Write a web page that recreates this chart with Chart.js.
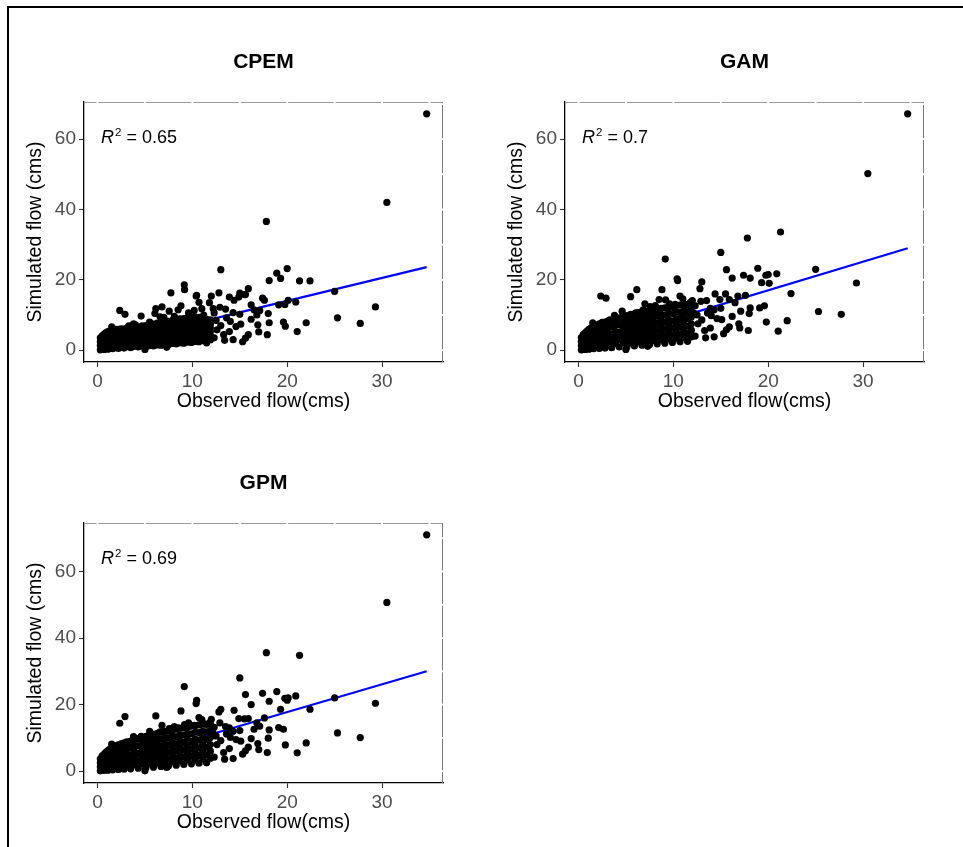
<!DOCTYPE html>
<html>
<head>
<meta charset="utf-8">
<script src="https://cdn.jsdelivr.net/npm/chart.js@4.4.1/dist/chart.umd.min.js"></script>
<style>
  body { margin: 0; background: #fff; width: 963px; height: 847px; overflow: hidden; position: relative; }
  .frame { position: absolute; left: 7px; top: 6px; width: 1000px; height: 900px; border-top: 2px solid #000; border-left: 2px solid #000; }
  canvas { position: absolute; }
</style>
</head>
<body>
<div class="frame"></div>
<canvas id="cpem" width="450" height="390" style="left:10px;top:30px"></canvas>
<canvas id="gam" width="450" height="390" style="left:491px;top:30px"></canvas>
<canvas id="gpm" width="450" height="390" style="left:10px;top:451px"></canvas>
<script>
// observed flow (shared by all three panels) - dense cluster first, then the scattered points
const observed = [
  0.3,0.3,0.3,0.3, 0.5,0.5,0.5,0.5, 0.7,0.7,0.7,0.7, 0.9,0.9,0.9,0.9,
  1.1,1.1,1.1,1.1, 1.3,1.3,1.3,1.3, 1.6,1.6,1.6,1.6, 1.9,1.9,1.9,1.9,
  2.2,2.2,2.2,2.2,2.2, 2.5,2.5,2.5,2.5,2.5, 2.8,2.8,2.8,2.8,2.8, 3.1,3.1,3.1,3.1,3.1,
  3.5,3.5,3.5,3.5,3.5, 3.9,3.9,3.9,3.9,3.9, 4.3,4.3,4.3,4.3,4.3, 4.7,4.7,4.7,4.7,4.7,
  5.1,5.1,5.1,5.1,5.1,5.1, 5.5,5.5,5.5,5.5,5.5,5.5, 5.9,5.9,5.9,5.9,5.9,5.9,
  6.3,6.3,6.3,6.3,6.3,6.3, 6.7,6.7,6.7,6.7,6.7,6.7, 7.1,7.1,7.1,7.1,7.1,7.1,
  7.5,7.5,7.5,7.5,7.5,7.5, 7.9,7.9,7.9,7.9,7.9,7.9, 8.3,8.3,8.3,8.3,8.3,8.3,
  8.7,8.7,8.7,8.7,8.7,8.7, 9.1,9.1,9.1,9.1,9.1,9.1, 9.5,9.5,9.5,9.5,9.5,9.5,
  9.9,9.9,9.9,9.9,9.9,9.9, 10.3,10.3,10.3,10.3,10.3,10.3, 10.7,10.7,10.7,10.7,10.7,10.7,
  11.1,11.1,11.1,11.1,11.1,11.1, 11.5,11.5,11.5,11.5,11.5,11.5, 11.9,11.9,11.9,11.9,11.9,11.9,
  34.7, 30.5, 17.8, 29.3, 27.7, 25.3, 25.0, 22.0, 21.05, 22.4,
  21.3, 13.0, 20.0, 18.9, 19.3, 18.1, 15.0, 9.15, 15.6, 17.4,
  16.2, 20.9, 20.1, 19.8, 19.6, 19.1, 19.75, 17.9, 18.1, 18.0,
  17.6, 17.1, 16.9, 17.0, 15.9, 15.6, 15.3, 14.3, 15.9, 15.5,
  14.9, 14.4, 13.9, 12.8, 12.0, 11.8, 10.7, 10.4, 10.45, 9.18,
  8.8, 7.74, 6.15, 2.35, 2.9, 1.5, 4.6, 6.8, 6.05, 6.6,
  7.56, 10.2, 5.0, 7.3, 11.5, 5.5, 13.5, 12.3, 12.9, 14.6,
  13.9, 13.3, 16.2, 15.0, 15.1, 14.3, 12.2, 13.0, 12.5, 14.0,
  8.5, 3.8, 8.1, 11.2, 16.8, 12.6, 13.6, 12.3, 13.4, 16.5,
  11.0, 9.6, 7.0, 4.0, 3.3
];

const simCPEM = [
  0.1,1.3,2.4,3.5, 0.4,1.7,2.9,4.1, 0.2,1.5,3.0,4.6, 0.6,2.0,3.5,5.0,
  0.3,1.8,3.3,5.3, 0.7,2.3,3.9,5.5, 0.4,2.0,3.7,5.7, 0.8,2.5,4.2,5.9,
  0.5,1.8,3.2,4.6,5.9, 0.9,2.2,3.6,4.9,6.1, 0.6,1.9,3.3,4.7,6.0, 1.0,2.4,3.7,5.1,6.3,
  0.7,2.1,3.4,4.9,6.2, 1.1,2.5,3.9,5.3,6.6, 0.9,2.3,3.7,5.1,6.5, 1.2,2.7,4.1,5.5,6.9,
  1.0,2.2,3.4,4.7,5.9,7.0, 1.3,2.6,3.8,5.0,6.2,7.3, 1.2,2.4,3.7,4.9,6.2,7.4,
  1.5,2.8,4.1,5.3,6.6,7.7, 1.4,2.7,4.0,5.2,6.5,7.8, 1.7,3.0,4.3,5.6,6.9,8.1,
  1.6,2.9,4.2,5.5,6.9,8.2, 1.9,3.2,4.6,5.9,7.2,8.5, 1.8,3.1,4.5,5.9,7.3,8.6,
  2.1,3.5,4.9,6.2,7.6,8.9, 2.0,3.4,4.8,6.2,7.6,9.0, 2.3,3.7,5.1,6.5,7.9,9.3,
  2.2,3.6,5.0,6.5,7.9,9.4, 2.5,3.9,5.3,6.7,8.1,9.5, 2.4,3.8,5.2,6.6,8.0,9.3,
  2.7,4.0,5.3,6.6,7.9,9.1, 2.6,3.9,5.1,6.4,7.6,8.8, 2.9,4.1,5.3,6.4,7.5,8.6,
  67.2, 42.0, 36.6, 12.3, 7.6, 9.2, 16.7, 7.8, 5.3, 19.7,
  19.7, 22.9, 23.2, 21.9, 20.4, 19.8, 16.2, 18.6, 15.8, 14.8,
  12.9, 13.7, 14.2, 6.8, 8.0, 12.9, 13.0, 4.4, 7.8, 10.4,
  14.2, 11.3, 7.2, 5.2, 4.4, 3.4, 2.4, 3.0, 17.5, 15.8,
  15.1, 14.2, 15.1, 16.3, 15.4, 13.5, 13.6, 15.4, 15.6, 17.2,
  12.6, 16.3, 11.8, 11.3, 10.2, 6.6, 9.7, 12.3, 10.4, 9.5,
  11.1, 11.3, 0.2, 0.8, 2.1, 8.0, 11.7, 10.6, 12.2, 6.7,
  5.3, 4.4, 8.8, 10.2, 7.4, 10.7, 11.8, 7.0, 8.5, 8.2,
  11.5, 7.5, 9.6, 10.0, 10.0, 5.8, 9.2, 3.5, 2.8, 11.5,
  11.8, 10.6, 9.3, 7.2, 6.9
];

const simGAM = [
  0.1,1.3,2.5,3.6, 0.7,1.9,3.1,4.4, 0.2,1.7,3.3,4.9, 1.0,2.5,4.0,5.4,
  0.3,2.1,4.0,5.9, 1.2,2.9,4.6,6.3, 0.4,2.5,4.6,6.8, 1.4,3.3,5.3,7.2,
  0.5,2.3,4.0,5.8,7.5, 1.5,3.1,4.7,6.3,7.9, 0.6,2.5,4.3,6.2,8.0, 1.7,3.4,5.0,6.7,8.3,
  0.7,2.7,4.6,6.6,8.5, 1.9,3.6,5.3,7.1,8.9, 0.9,3.0,5.1,7.2,9.2, 2.1,3.9,5.8,7.6,9.5,
  1.0,2.8,4.6,6.4,8.1,9.8, 2.1,3.8,5.4,7.1,8.7,10.2, 1.2,3.1,4.9,6.8,8.6,10.3,
  2.4,4.1,5.8,7.5,9.1,10.7, 1.4,3.3,5.2,7.1,9.0,10.8, 2.6,4.3,6.0,7.8,9.5,11.1,
  1.6,3.6,5.5,7.4,9.3,11.2, 2.8,4.6,6.3,8.1,9.8,11.5, 1.8,3.8,5.8,7.7,9.7,11.6,
  3.0,4.8,6.6,8.4,10.2,11.9, 2.0,4.0,6.0,8.0,10.0,12.0, 3.2,5.0,6.9,8.7,10.5,12.3,
  2.2,4.3,6.3,8.3,10.4,12.4, 3.4,5.3,7.1,9.0,10.9,12.7, 2.4,4.5,6.6,8.6,10.7,12.8,
  3.6,5.5,7.4,9.3,11.2,13.1, 2.6,4.7,6.8,8.9,11.0,13.0, 3.8,5.7,7.5,9.4,11.3,13.2,
  67.2, 50.2, 31.9, 19.1, 10.2, 11.0, 23.0, 8.4, 5.4, 16.1,
  33.6, 19.4, 21.5, 23.3, 19.2, 20.5, 27.8, 25.9, 22.9, 21.3,
  20.5, 21.7, 19.0, 8.0, 12.6, 12.0, 21.3, 5.6, 12.0, 10.4,
  15.6, 11.1, 7.5, 6.3, 6.6, 5.8, 4.7, 3.8, 14.4, 16.0,
  14.4, 16.0, 11.9, 17.5, 14.1, 13.6, 15.4, 20.3, 19.8, 14.3,
  17.2, 12.0, 17.2, 15.4, 14.8, 7.8, 11.1, 11.5, 10.6, 9.8,
  12.4, 13.0, 0.2, 1.1, 2.6, 15.2, 14.1, 12.6, 13.9, 9.0,
  6.3, 5.6, 9.6, 11.9, 8.7, 11.5, 10.5, 8.6, 10.0, 9.8,
  14.4, 9.9, 12.7, 12.9, 15.4, 7.5, 10.6, 4.0, 3.5, 13.5,
  14.6, 13.2, 13.2, 8.9, 8.6
];

const simGPM = [
  0.1,1.3,2.5,3.7, 0.8,2.1,3.3,4.6, 0.2,1.8,3.4,5.1, 1.1,2.6,4.2,5.7,
  0.3,2.2,4.2,6.2, 1.3,3.1,4.8,6.6, 0.4,2.6,4.8,7.1, 1.5,3.5,5.6,7.6,
  0.5,2.4,4.2,6.1,7.9, 1.6,3.3,5.0,6.6,8.2, 0.6,2.6,4.5,6.5,8.5, 1.8,3.5,5.3,7.1,8.8,
  0.7,2.8,4.8,6.9,9.0, 2.0,3.9,5.7,7.6,9.4, 0.9,3.1,5.3,7.6,9.8, 2.2,4.1,6.1,8.1,10.1,
  1.0,2.9,4.8,6.8,8.7,10.5, 2.2,4.0,5.7,7.4,9.1,10.8, 1.2,3.2,5.2,7.2,9.2,11.1,
  2.5,4.3,6.1,7.9,9.7,11.4, 1.4,3.5,5.5,7.6,9.6,11.7, 2.7,4.5,6.4,8.2,10.1,11.9,
  1.6,3.7,5.8,7.9,10.0,12.1, 2.9,4.8,6.7,8.6,10.5,12.4, 1.8,3.9,6.1,8.2,10.4,12.6,
  3.1,5.0,7.0,9.0,10.9,12.9, 2.0,4.2,6.4,8.6,10.8,13.0, 3.3,5.3,7.3,9.3,11.3,13.3,
  2.2,4.5,6.7,8.9,11.2,13.5, 3.5,5.5,7.6,9.6,11.7,13.7, 2.4,4.7,7.0,9.3,11.6,13.9,
  3.7,5.8,7.9,10.0,12.0,14.1, 2.6,4.9,7.2,9.5,11.8,14.0, 3.9,6.0,8.0,10.1,12.2,14.2,
  71.0, 50.7, 35.6, 20.4, 10.1, 11.5, 22.0, 8.5, 5.5, 18.6,
  34.8, 18.6, 21.3, 23.9, 18.6, 21.0, 28.0, 25.4, 23.0, 23.4,
  20.0, 22.6, 22.0, 7.9, 12.6, 13.1, 21.9, 5.6, 12.4, 9.9,
  16.0, 13.5, 8.3, 6.5, 7.2, 6.1, 5.1, 3.8, 15.8, 15.7,
  15.8, 18.3, 13.0, 17.8, 15.6, 14.5, 16.1, 20.3, 21.3, 14.0,
  18.1, 12.8, 16.6, 14.4, 16.4, 8.1, 10.5, 13.8, 11.0, 11.8,
  12.8, 13.8, 0.1, 1.1, 2.6, 12.0, 13.4, 13.2, 14.5, 9.5,
  6.8, 5.6, 9.8, 12.2, 9.0, 12.0, 11.4, 9.2, 10.6, 10.2,
  13.0, 10.4, 13.4, 14.3, 14.5, 8.0, 11.2, 4.2, 3.6, 12.6,
  15.5, 14.5, 12.0, 9.6, 8.7
];

// fitted regression lines (ends of the blue line)
const fitX = [0.3, 34.7];
const fitCPEM = [1.15, 23.6];
const fitGAM = [1.0, 29.0];
const fitGPM = [1.35, 30.0];

const xLimits = [-1.42, 36.42];
const xTicks = [0, 10, 20, 30];

Chart.defaults.font.family = '"Liberation Sans", Arial, sans-serif';

// top/right panel border (with the white grid gaps) and the R^2 label
const panelExtras = {
    id: 'panelExtras',
    afterDraw(chart, args, opts) {
        const ctx = chart.ctx;
        const a = chart.chartArea;
        const sx = chart.scales.x, sy = chart.scales.y;
        ctx.save();
        ctx.lineWidth = 1;
        ctx.strokeStyle = '#9a9a9a';
        ctx.beginPath(); ctx.moveTo(a.left, a.top + 0.5); ctx.lineTo(a.right, a.top + 0.5); ctx.stroke();
        ctx.strokeStyle = '#7a7a7a';
        ctx.beginPath(); ctx.moveTo(a.right - 0.5, a.top); ctx.lineTo(a.right - 0.5, a.bottom); ctx.stroke();
        ctx.fillStyle = '#fff';
        for (let v = 0; v <= 35; v += 5) ctx.fillRect(sx.getPixelForValue(v) - 1, a.top - 1, 2, 3);
        for (let v = 0; v <= sy.max; v += 10) ctx.fillRect(a.right - 2, sy.getPixelForValue(v) - 1, 3, 2);

        // R^2 = ..
        ctx.fillStyle = '#000';
        ctx.textBaseline = 'alphabetic';
        let x = a.left + 17;
        const y = a.top + 40.5;
        ctx.font = 'italic 18px "Liberation Sans", Arial, sans-serif';
        ctx.fillText('R', x, y);
        x += ctx.measureText('R').width + 1;
        ctx.font = '11.5px "Liberation Sans", Arial, sans-serif';
        ctx.fillText('2', x, y - 7);
        x += ctx.measureText('2').width;
        ctx.font = '18px "Liberation Sans", Arial, sans-serif';
        ctx.fillText(' = ' + opts.r2, x, y);
        ctx.restore();
    }
};

function makePanel(id, title, sim, fitY, r2, yMin, yMax) {
    const points = observed.map((x, i) => ({x: x, y: sim[i]}));
    const line = fitX.map((x, i) => ({x: x, y: fitY[i]}));
    new Chart(document.getElementById(id), {
        type: 'scatter',
        data: {
            datasets: [
                {data: points, backgroundColor: '#000', borderWidth: 0, pointRadius: 3.6, pointHoverRadius: 3.6},
                {type: 'line', data: line, borderColor: '#0000ff', borderWidth: 2.2, pointRadius: 0, fill: false, tension: 0}
            ]
        },
        options: {
            responsive: false,
            animation: false,
            devicePixelRatio: 1,
            events: [],
            layout: {padding: {left: 0, right: 17, top: 0, bottom: 0}},
            plugins: {
                legend: {display: false},
                tooltip: {enabled: false},
                title: {display: true, text: title, fullSize: false, color: '#000',
                        font: {size: 21, weight: 'bold'}, padding: {top: 20, bottom: 26.8}},
                panelExtras: {r2: r2}
            },
            scales: {
                x: {
                    type: 'linear', min: xLimits[0], max: xLimits[1],
                    afterFit: s => { s.height = 58; },
                    afterBuildTicks: s => { s.ticks = xTicks.map(v => ({value: v})); },
                    ticks: {color: '#4d4d4d', font: {size: 19}, padding: 3, maxRotation: 0},
                    grid: {drawOnChartArea: false, tickLength: 5, tickColor: '#333', tickWidth: 1.1},
                    border: {color: '#000', width: 1.3},
                    title: {display: true, text: 'Observed flow(cms)', color: '#000', font: {size: 19.5}, padding: {top: 0, bottom: 7}}
                },
                y: {
                    type: 'linear', min: yMin, max: yMax,
                    afterFit: s => { s.width = 74; },
                    ticks: {stepSize: 20, includeBounds: false, color: '#4d4d4d', font: {size: 19}, padding: 3},
                    grid: {drawOnChartArea: false, tickLength: 5, tickColor: '#333', tickWidth: 1.1},
                    border: {color: '#000', width: 1.3},
                    title: {display: true, text: 'Simulated flow (cms)', color: '#000', font: {size: 19.5}, padding: {top: 14.3, bottom: 0}}
                }
            }
        },
        plugins: [panelExtras]
    });
}

makePanel('cpem', 'CPEM', simCPEM, fitCPEM, '0.65', -3.36, 70.56);
makePanel('gam', 'GAM', simGAM, fitGAM, '0.7', -3.36, 70.56);
makePanel('gpm', 'GPM', simGPM, fitGPM, '0.69', -3.55, 74.55);
</script>
</body>
</html>
